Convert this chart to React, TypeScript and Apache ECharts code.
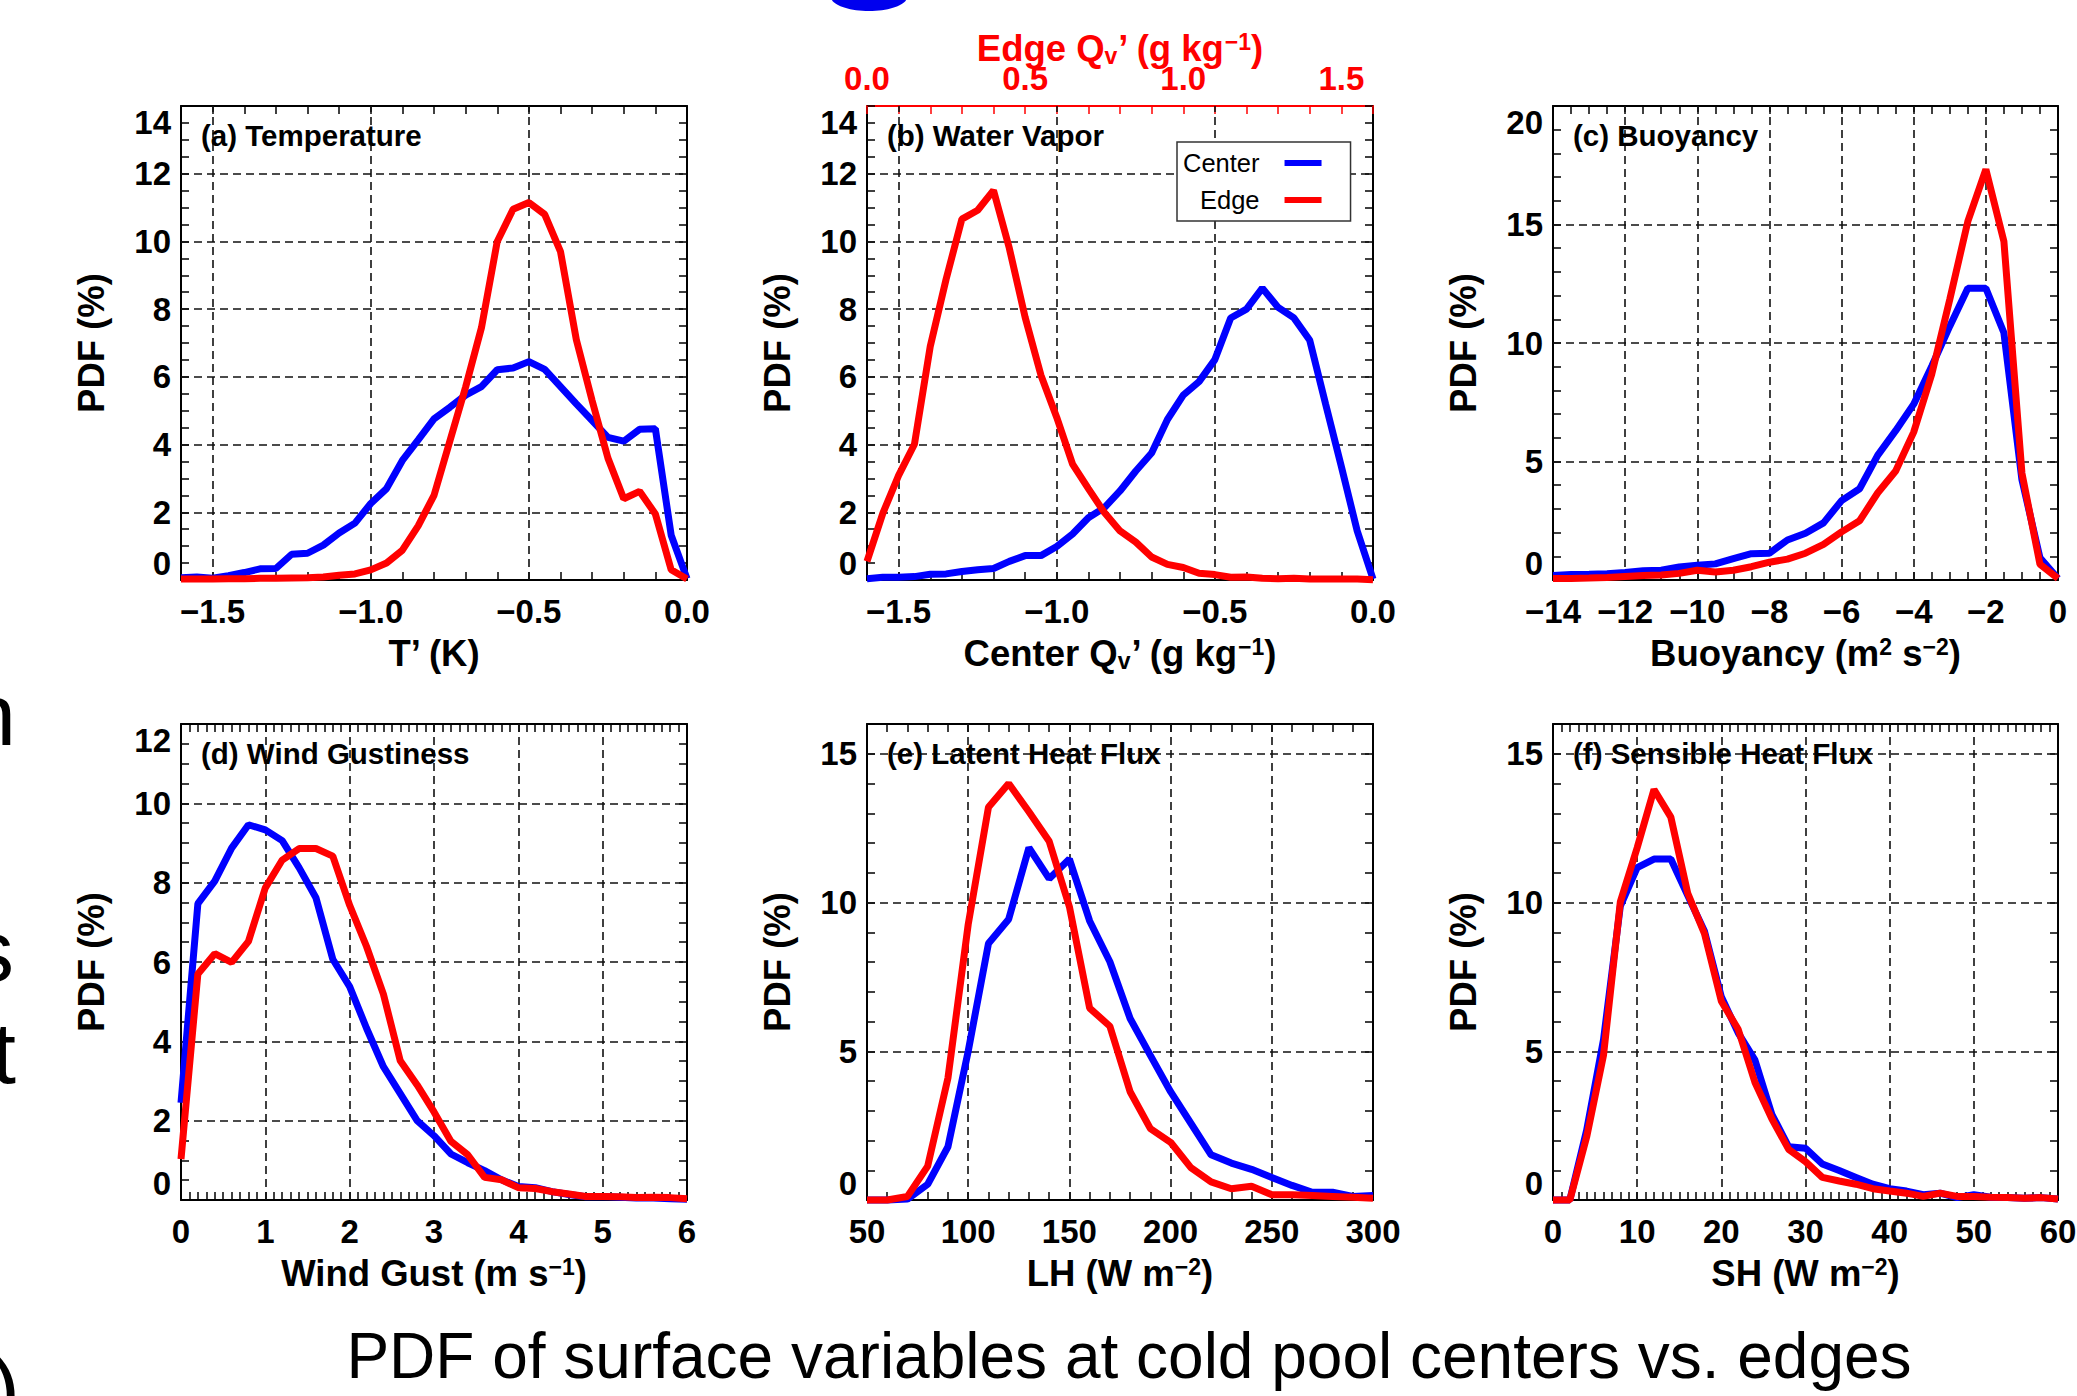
import React, { useEffect, useRef } from "react";
import * as echarts from "echarts";

const FONT = '"Liberation Sans", Arial, Helvetica, sans-serif';
const BLUE = "#0000ff";
const RED = "#ff0000";

// ---------- bins (x categories) ----------
const tempBins = [-1.6, -1.55, -1.5, -1.45, -1.4, -1.35, -1.3, -1.25, -1.2, -1.15, -1.1, -1.05, -1.0, -0.95, -0.9, -0.85, -0.8, -0.75, -0.7, -0.65, -0.6, -0.55, -0.5, -0.45, -0.4, -0.35, -0.3, -0.25, -0.2, -0.15, -0.1, -0.05, 0];
const qvCenterBins = [-1.6, -1.55, -1.5, -1.45, -1.4, -1.35, -1.3, -1.25, -1.2, -1.15, -1.1, -1.05, -1.0, -0.95, -0.9, -0.85, -0.8, -0.75, -0.7, -0.65, -0.6, -0.55, -0.5, -0.45, -0.4, -0.35, -0.3, -0.25, -0.2, -0.15, -0.1, -0.05, 0];
const qvEdgeBins = [0, 0.05, 0.1, 0.15, 0.2, 0.25, 0.3, 0.35, 0.4, 0.45, 0.5, 0.55, 0.6, 0.65, 0.7, 0.75, 0.8, 0.85, 0.9, 0.95, 1.0, 1.05, 1.1, 1.15, 1.2, 1.25, 1.3, 1.35, 1.4, 1.45, 1.5, 1.55, 1.6];
const buoyBins = [-14, -13.5, -13, -12.5, -12, -11.5, -11, -10.5, -10, -9.5, -9, -8.5, -8, -7.5, -7, -6.5, -6, -5.5, -5, -4.5, -4, -3.5, -3, -2.5, -2, -1.5, -1, -0.5, 0];
const gustBins = [0, 0.2, 0.4, 0.6, 0.8, 1.0, 1.2, 1.4, 1.6, 1.8, 2.0, 2.2, 2.4, 2.6, 2.8, 3.0, 3.2, 3.4, 3.6, 3.8, 4.0, 4.2, 4.4, 4.6, 4.8, 5.0, 5.2, 5.4, 5.6, 5.8, 6.0];
const lhBins = [50, 60, 70, 80, 90, 100, 110, 120, 130, 140, 150, 160, 170, 180, 190, 200, 210, 220, 230, 240, 250, 260, 270, 280, 290, 300];
const shBins = [0, 2, 4, 6, 8, 10, 12, 14, 16, 18, 20, 22, 24, 26, 28, 30, 32, 34, 36, 38, 40, 42, 44, 46, 48, 50, 52, 54, 56, 58, 60];

// ---------- PDF values (%) ----------
const tempCenter = [0.07, 0.09, 0.05, 0.13, 0.22, 0.33, 0.34, 0.76, 0.79, 1.03, 1.39, 1.68, 2.26, 2.7, 3.53, 4.14, 4.76, 5.1, 5.46, 5.71, 6.21, 6.26, 6.45, 6.22, 5.71, 5.2, 4.71, 4.21, 4.1, 4.45, 4.47, 1.32, 0.04];
const tempEdge = [0.03, 0.03, 0.03, 0.04, 0.04, 0.05, 0.05, 0.06, 0.07, 0.09, 0.14, 0.18, 0.3, 0.5, 0.88, 1.6, 2.5, 4.1, 5.7, 7.45, 10.0, 10.95, 11.15, 10.8, 9.7, 7.1, 5.3, 3.6, 2.4, 2.62, 1.95, 0.3, 0.03];
const qvCenter = [0.04, 0.08, 0.08, 0.1, 0.17, 0.18, 0.25, 0.3, 0.34, 0.55, 0.72, 0.72, 0.99, 1.36, 1.84, 2.13, 2.63, 3.22, 3.75, 4.74, 5.46, 5.86, 6.51, 7.74, 8.0, 8.62, 8.05, 7.74, 7.08, 5.2, 3.35, 1.45, 0.03];
const qvEdge = [0.55, 1.97, 3.09, 4.01, 6.9, 8.88, 10.66, 10.92, 11.51, 9.8, 7.76, 6.05, 4.8, 3.42, 2.7, 2.0, 1.45, 1.12, 0.68, 0.46, 0.37, 0.2, 0.16, 0.08, 0.09, 0.05, 0.04, 0.05, 0.03, 0.03, 0.03, 0.03, 0.01];
const buoyCenter = [0.19, 0.23, 0.24, 0.26, 0.32, 0.39, 0.41, 0.55, 0.62, 0.68, 0.9, 1.11, 1.13, 1.69, 1.97, 2.41, 3.35, 3.85, 5.26, 6.3, 7.42, 9.02, 10.71, 12.31, 12.31, 10.43, 4.23, 0.94, 0.06];
const buoyEdge = [0.06, 0.06, 0.08, 0.11, 0.15, 0.19, 0.21, 0.28, 0.41, 0.34, 0.41, 0.56, 0.75, 0.88, 1.13, 1.5, 2.03, 2.5, 3.67, 4.6, 6.24, 8.68, 11.84, 15.13, 17.33, 14.29, 4.51, 0.66, 0.06];
const gustCenter = [2.45, 7.47, 8.04, 8.87, 9.46, 9.33, 9.06, 8.38, 7.62, 6.07, 5.38, 4.33, 3.36, 2.68, 2.0, 1.62, 1.16, 0.94, 0.74, 0.51, 0.34, 0.31, 0.21, 0.14, 0.08, 0.09, 0.07, 0.05, 0.05, 0.03, 0.02];
const gustEdge = [1.03, 5.7, 6.21, 5.99, 6.52, 7.87, 8.57, 8.86, 8.86, 8.67, 7.43, 6.39, 5.19, 3.51, 2.9, 2.22, 1.48, 1.14, 0.57, 0.51, 0.31, 0.29, 0.21, 0.15, 0.09, 0.09, 0.08, 0.06, 0.07, 0.06, 0.03];
const lhCenter = [0, 0, 0.03, 0.53, 1.79, 5.0, 8.62, 9.44, 11.84, 10.8, 11.46, 9.38, 8.01, 6.1, 4.86, 3.64, 2.58, 1.52, 1.24, 1.03, 0.76, 0.49, 0.26, 0.26, 0.12, 0.15];
const lhEdge = [0, 0, 0.12, 1.14, 4.1, 9.26, 13.2, 14.0, 13.05, 12.06, 9.86, 6.45, 5.84, 3.64, 2.4, 1.94, 1.09, 0.61, 0.38, 0.46, 0.18, 0.18, 0.15, 0.12, 0.09, 0.06];
const shCenter = [0, 0, 2.35, 5.39, 9.88, 11.17, 11.46, 11.46, 10.24, 9.03, 6.83, 5.62, 4.7, 2.88, 1.79, 1.74, 1.21, 0.99, 0.76, 0.53, 0.38, 0.3, 0.18, 0.23, 0.08, 0.18, 0.09, 0.08, 0.06, 0.08, 0.03];
const shEdge = [0, 0, 2.12, 4.86, 10.02, 11.84, 13.8, 12.87, 10.32, 8.95, 6.68, 5.74, 3.95, 2.73, 1.7, 1.29, 0.76, 0.64, 0.53, 0.38, 0.3, 0.23, 0.12, 0.23, 0.12, 0.12, 0.09, 0.08, 0.06, 0.08, 0.03];

// ---------- tick labels ----------
const tempTicks = [-1.5, -1.0, -0.5, 0.0];
const qvEdgeTicks = [0.0, 0.5, 1.0, 1.5];
const pdf14Ticks = [0, 2, 4, 6, 8, 10, 12, 14];
const buoyXTicks = [-14, -12, -10, -8, -6, -4, -2, 0];
const pdf20Ticks = [0, 5, 10, 15, 20];
const gustXTicks = [0, 1, 2, 3, 4, 5, 6];
const pdf12Ticks = [0, 2, 4, 6, 8, 10, 12];
const lhXTicks = [50, 100, 150, 200, 250, 300];
const shXTicks = [0, 10, 20, 30, 40, 50, 60];
const pdf16Ticks = [0, 5, 10, 15];

const titles = ["(a) Temperature", "(b) Water Vapor", "(c) Buoyancy", "(d) Wind Gustiness", "(e) Latent Heat Flux", "(f) Sensible Heat Flux"];
const seriesNames = ["Center", "Edge"];

type AxisSpec = { min: number; max: number; step: number; ticks: number[]; dec: number };

const panels = [
  { grid: { left: 181, top: 106, width: 506, height: 474 }, x: { min: -1.6, max: 0, step: 0.1, ticks: tempTicks, dec: 1 }, y: { min: 0, max: 14, step: 0.5, ticks: pdf14Ticks, dec: 0 }, xName: "T\u2019 (K)", cb: tempBins, c: tempCenter, eb: tempBins, e: tempEdge },
  { grid: { left: 867, top: 106, width: 506, height: 474 }, x: { min: -1.6, max: 0, step: 0.1, ticks: tempTicks, dec: 1 }, y: { min: 0, max: 14, step: 0.5, ticks: pdf14Ticks, dec: 0 }, xName: "Center Q{sub|v}\u2019 (g kg{sup|\u22121})", top: { min: 0, max: 1.6, step: 0.1, ticks: qvEdgeTicks, dec: 1 }, topName: "Edge Q{sub|v}\u2019 (g kg{sup|\u22121})", cb: qvCenterBins, c: qvCenter, eb: qvEdgeBins, e: qvEdge },
  { grid: { left: 1553, top: 106, width: 505, height: 474 }, x: { min: -14, max: 0, step: 0.5, ticks: buoyXTicks, dec: 0 }, y: { min: 0, max: 20, step: 1, ticks: pdf20Ticks, dec: 0 }, xName: "Buoyancy (m{sup|2} s{sup|\u22122})", cb: buoyBins, c: buoyCenter, eb: buoyBins, e: buoyEdge },
  { grid: { left: 181, top: 724, width: 506, height: 476 }, x: { min: 0, max: 6, step: 0.1, ticks: gustXTicks, dec: 0 }, y: { min: 0, max: 12, step: 0.5, ticks: pdf12Ticks, dec: 0 }, xName: "Wind Gust (m s{sup|\u22121})", cb: gustBins, c: gustCenter, eb: gustBins, e: gustEdge },
  { grid: { left: 867, top: 724, width: 506, height: 476 }, x: { min: 50, max: 300, step: 10, ticks: lhXTicks, dec: 0 }, y: { min: 0, max: 16, step: 1, ticks: pdf16Ticks, dec: 0 }, xName: "LH (W m{sup|\u22122})", cb: lhBins, c: lhCenter, eb: lhBins, e: lhEdge },
  { grid: { left: 1553, top: 724, width: 505, height: 476 }, x: { min: 0, max: 60, step: 1, ticks: shXTicks, dec: 0 }, y: { min: 0, max: 16, step: 1, ticks: pdf16Ticks, dec: 0 }, xName: "SH (W m{sup|\u22122})", cb: shBins, c: shCenter, eb: shBins, e: shEdge },
] as any[];

const isTick = (v: number, ticks: number[]) => ticks.some((t) => Math.abs(t - v) < 1e-6);
const fmt = (v: number, dec: number) => (Math.abs(v) < 1e-9 ? 0 : v).toFixed(dec).replace("-", "\u2212");

function nameStyle(color: string) {
  return {
    color,
    fontSize: 36.5,
    fontWeight: "bold",
    fontFamily: FONT,
    rich: {
      sup: { color, fontSize: 23, fontWeight: "bold", fontFamily: FONT, verticalAlign: "top" },
      sub: { color, fontSize: 23, fontWeight: "bold", fontFamily: FONT, verticalAlign: "bottom" },
    },
  };
}

function makeX(gridIndex: number, s: AxisSpec, position: string, labeled: boolean, name: string, color: string) {
  return {
    type: "value",
    gridIndex,
    position,
    min: s.min,
    max: s.max,
    interval: s.step,
    axisLine: { show: true, onZero: false, lineStyle: { color, width: 2 } },
    axisTick: { show: true, inside: true, length: 8, lineStyle: { color, width: 1.5 } },
    minorTick: { show: false },
    splitLine: { show: false },
    axisLabel: labeled
      ? {
          show: true,
          margin: position === "top" ? 11 : 15,
          color,
          fontSize: 33,
          fontWeight: "bold",
          fontFamily: FONT,
          showMinLabel: true,
          showMaxLabel: true,
          formatter: (v: number) => (isTick(v, s.ticks) ? fmt(v, s.dec) : ""),
        }
      : { show: false },
    name: labeled ? name : "",
    nameLocation: "middle",
    nameGap: position === "top" ? 39 : 55,
    nameTextStyle: nameStyle(color),
    nameMoveOverlap: false,
  };
}

function makeY(gridIndex: number, s: AxisSpec, position: string, labeled: boolean) {
  return {
    type: "value",
    gridIndex,
    position,
    min: s.min,
    max: s.max,
    interval: s.step,
    axisLine: { show: true, onZero: false, lineStyle: { color: "#000", width: 2 } },
    axisTick: { show: true, inside: true, length: 8, lineStyle: { color: "#000", width: 1.5 } },
    minorTick: { show: false },
    splitLine: { show: false },
    axisLabel: labeled
      ? {
          show: true,
          margin: 10,
          color: "#000",
          fontSize: 33,
          fontWeight: "bold",
          fontFamily: FONT,
          showMinLabel: true,
          showMaxLabel: true,
          verticalAlignMinLabel: "bottom",
          verticalAlignMaxLabel: "top",
          formatter: (v: number) => (isTick(v, s.ticks) ? fmt(v, s.dec) : ""),
        }
      : { show: false },
    name: labeled ? "PDF (%)" : "",
    nameLocation: "middle",
    nameRotate: 90,
    nameGap: 71,
    nameTextStyle: nameStyle("#000"),
    nameMoveOverlap: false,
  };
}

function buildOption() {
  const grid: any[] = [];
  const xAxis: any[] = [];
  const yAxis: any[] = [];
  const series: any[] = [];
  const graphic: any[] = [];

  panels.forEach((p, i) => {
    grid.push({ ...p.grid, show: false, containLabel: false, outerBoundsMode: "none" });
    xAxis.push(makeX(i, p.x, "bottom", true, p.xName, "#000"));
    if (p.top) xAxis.push(makeX(i, p.top, "top", true, p.topName, RED));
    else xAxis.push(makeX(i, p.x, "top", false, "", "#000"));
    yAxis.push(makeY(i, p.y, "left", true));
    yAxis.push(makeY(i, p.y, "right", false));

    const gx = p.x.ticks.filter((t: number) => t > p.x.min + 1e-9 && t < p.x.max - 1e-9);
    const gy = p.y.ticks.filter((t: number) => t > p.y.min + 1e-9 && t < p.y.max - 1e-9);

    series.push({
      type: "line",
      name: seriesNames[0],
      xAxisIndex: 2 * i,
      yAxisIndex: 2 * i,
      data: p.cb.map((b: number, k: number) => [b, p.c[k]]),
      symbol: "none",
      showSymbol: false,
      clip: false,
      color: BLUE,
      lineStyle: { color: BLUE, width: 7 },
      itemStyle: { color: BLUE },
      z: 3,
      markLine: {
        silent: true,
        symbol: ["none", "none"],
        z: 1,
        animation: false,
        label: { show: false },
        emphasis: { disabled: true },
        lineStyle: { color: "#111", width: 1.6, type: [8, 5] },
        data: [...gx.map((v: number) => ({ xAxis: v })), ...gy.map((v: number) => ({ yAxis: v }))],
      },
    });
    series.push({
      type: "line",
      name: seriesNames[1],
      xAxisIndex: p.top ? 2 * i + 1 : 2 * i,
      yAxisIndex: 2 * i,
      data: p.eb.map((b: number, k: number) => [b, p.e[k]]),
      symbol: "none",
      showSymbol: false,
      clip: false,
      color: RED,
      lineStyle: { color: RED, width: 7 },
      itemStyle: { color: RED },
      z: 4,
    });

    graphic.push({
      type: "text",
      x: p.grid.left + 20,
      y: p.grid.top + 29,
      z: 5,
      style: { text: titles[i], fontSize: 29.5, fontWeight: "bold", fontFamily: FONT, fill: "#000", align: "left", verticalAlign: "middle" },
    });
  });

  graphic.push({
    type: "text",
    x: 1129,
    y: 1356,
    style: { text: "PDF of surface variables at cold pool centers vs. edges", fontSize: 64, fontFamily: FONT, fill: "#000", align: "center", verticalAlign: "middle" },
  });
  // fragments of surrounding slide text cut off at the left edge
  const frag = [
    { t: "n", x: 16, y: 714 },
    { t: "s", x: 14, y: 950 },
    { t: "t", x: 16, y: 1052 },
    { t: ")", x: 20, y: 1388 },
  ];
  frag.forEach((f) =>
    graphic.push({
      type: "text",
      x: f.x,
      y: f.y,
      style: { text: f.t, fontSize: 88, fontFamily: FONT, fill: "#000", align: "right", verticalAlign: "middle" },
    })
  );
  graphic.push({ type: "ellipse", shape: { cx: 869, cy: -3, rx: 38, ry: 14 }, style: { fill: "#0000ee" } });

  return {
    animation: false,
    backgroundColor: "#fff",
    grid,
    xAxis,
    yAxis,
    series,
    graphic: { elements: graphic },
    legend: {
      show: true,
      data: seriesNames,
      orient: "vertical",
      align: "right",
      left: 1177,
      top: 142,
      itemWidth: 37,
      itemHeight: 6,
      itemGap: 11,
      icon: "rect",
      padding: [8, 29, 8, 6],
      backgroundColor: "#fff",
      borderColor: "#333",
      borderWidth: 1.5,
      borderRadius: 0,
      selectedMode: false,
      z: 10,
      textStyle: { fontSize: 25.5, fontFamily: FONT, color: "#000", padding: [0, 20, 0, 0] },
    },
  };
}

export default function App() {
  const ref = useRef<HTMLDivElement>(null);
  useEffect(() => {
    const chart = echarts.init(ref.current!, null, { renderer: "svg" });
    chart.setOption(buildOption() as any);
    return () => chart.dispose();
  }, []);
  return (
    <div
      ref={ref}
      style={{ position: "absolute", left: 0, top: 0, width: 2077, height: 1396, background: "#fff" }}
    />
  );
}
